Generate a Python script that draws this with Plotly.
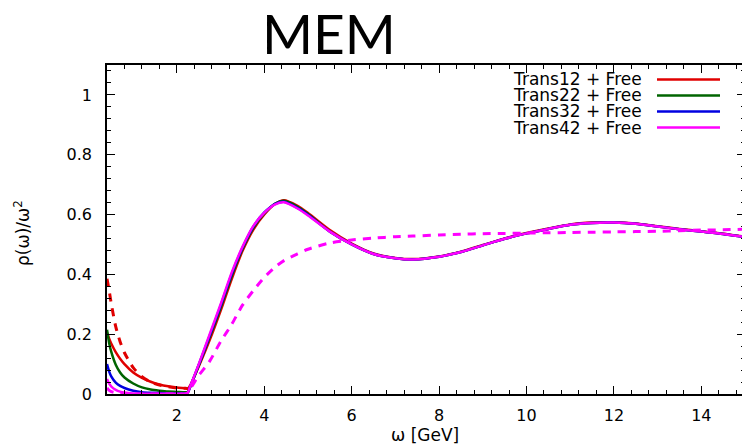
import plotly.graph_objects as go

# ---------------- data ----------------
omega = [0.4, 0.45, 0.5, 0.6, 0.7, 0.8, 1.0, 1.2, 1.4, 1.6, 1.8, 2.0, 2.2,
         2.25, 2.3, 2.5, 2.75, 3.0, 3.25, 3.5, 3.75, 4.0, 4.25, 4.45, 4.75,
         5.0, 5.5, 6.0, 6.5, 7.0, 7.4, 8.0, 8.5, 9.0, 9.5, 10.0, 10.5, 11.0,
         11.5, 12.0, 12.5, 13.0, 13.5, 14.0, 14.5, 15.0]

tail = [0.543, 0.5, 0.468, 0.454, 0.45, 0.459, 0.475, 0.497, 0.519, 0.537,
        0.552, 0.566, 0.572, 0.573, 0.569, 0.56, 0.551, 0.543, 0.535, 0.525]

trans12 = [0.205, 0.185, 0.168, 0.14, 0.118, 0.1, 0.072, 0.054, 0.041, 0.032,
           0.026, 0.022, 0.019, 0.018, 0.028,
           0.092, 0.18, 0.278, 0.383, 0.478, 0.55, 0.6, 0.636, 0.648, 0.63,
           0.605, 0.548, 0.503, 0.47, 0.455, 0.451, 0.46, 0.476, 0.498,
           0.52, 0.538, 0.553, 0.567, 0.573, 0.574, 0.57, 0.561, 0.552,
           0.544, 0.536, 0.526]
trans22 = [0.215, 0.17, 0.14, 0.098, 0.072, 0.055, 0.035, 0.022, 0.015, 0.011,
           0.008, 0.007, 0.006, 0.007, 0.022,
           0.096, 0.19, 0.288, 0.393, 0.485, 0.556, 0.604, 0.637, 0.646, 0.627,
           0.602] + tail
trans32 = [0.1, 0.075, 0.058, 0.038, 0.027, 0.02, 0.011, 0.006, 0.004, 0.003,
           0.002, 0.002, 0.002, 0.004, 0.023,
           0.098, 0.195, 0.295, 0.4, 0.489, 0.56, 0.607, 0.636, 0.643, 0.623,
           0.599] + tail
trans42 = [0.05, 0.035, 0.025, 0.014, 0.008, 0.005, 0.002, 0.001, 0.001, 0.001,
           0.001, 0.001, 0.001, 0.005, 0.024,
           0.1, 0.2, 0.3, 0.405, 0.492, 0.562, 0.606, 0.634, 0.641, 0.621,
           0.597] + tail

free_tail = [0.016, 0.062, 0.11, 0.175, 0.232, 0.297, 0.346, 0.39, 0.425,
             0.446, 0.468, 0.484, 0.505, 0.515, 0.521, 0.526, 0.528, 0.532,
             0.534, 0.536, 0.537, 0.538, 0.539, 0.54, 0.541, 0.542, 0.543,
             0.544, 0.546, 0.548, 0.549, 0.551]
free12_low = [0.385, 0.345, 0.3, 0.225, 0.175, 0.138, 0.088, 0.058, 0.04,
              0.03, 0.024, 0.02, 0.019, 0.018]
free42 = [0.02, 0.012, 0.008, 0.004, 0.002, 0.001, 0.0, 0.0, 0.0, 0.0,
          0.0, 0.0, 0.0, 0.004] + free_tail

labels = ["Trans12 + Free", "Trans22 + Free", "Trans32 + Free", "Trans42 + Free"]
colors = ["#e00000", "#006400", "#0000e0", "#ff00ff"]

# ---------------- figure ----------------
fig = go.Figure()
for lab, ys, col in zip(labels, [trans12, trans22, trans32, trans42], colors):
    fig.add_trace(go.Scatter(x=omega, y=ys, mode="lines", name=lab,
                             line=dict(color=col, width=2.5, shape="spline",
                                       smoothing=0.7),
                             showlegend=False))
fig.add_trace(go.Scatter(x=omega[:len(free12_low)], y=free12_low, mode="lines",
                         line=dict(color=colors[0], width=3, dash="8px,7px",
                                   shape="spline", smoothing=0.7),
                         showlegend=False))
fig.add_trace(go.Scatter(x=omega, y=free42, mode="lines",
                         line=dict(color=colors[3], width=3, dash="8px,7px",
                                   shape="spline", smoothing=0.7),
                         showlegend=False))

# page body has an 8px margin, so the figure is placed at (8, 8)
OFF = 8
PL, PR, PT, PB = 107, 745, 65, 394      # plot-area edges in page pixels
W, H = 750, 448
pw, ph = PR - PL, PB - PT


def px_x(p):
    return (p - PL) / pw


def px_y(p):
    return (PB - p) / ph


# legend (text left of sample line, as in the reference)
leg_y = [79, 95, 111, 127]
for lab, col, yy in zip(labels, colors, leg_y):
    fig.add_annotation(x=px_x(643), y=px_y(yy), xref="paper", yref="paper",
                       text=lab, showarrow=False, xanchor="right",
                       yanchor="middle", height=15, borderpad=0,
                       font=dict(family="DejaVu Sans", size=17, color="black"))
    fig.add_shape(type="line", xref="paper", yref="paper",
                  x0=px_x(657), x1=px_x(720), y0=px_y(yy + 0.5),
                  y1=px_y(yy + 0.5),
                  line=dict(color=col, width=2.5))

fig.add_annotation(x=px_x(329), y=px_y(33), xref="paper", yref="paper",
                   text="MEM", showarrow=False, xanchor="center",
                   yanchor="middle",
                   font=dict(family="Lato", size=55, color="black"))

# axis titles
fig.add_annotation(x=px_x(425), y=px_y(435), xref="paper", yref="paper",
                   text="ω [GeV]", showarrow=False, xanchor="center",
                   yanchor="middle",
                   font=dict(family="DejaVu Sans", size=17, color="black"))
fig.add_annotation(x=px_x(22), y=px_y(233), xref="paper", yref="paper",
                   text="ρ(ω)/ω<sup>2</sup>", showarrow=False, textangle=-90,
                   xanchor="center", yanchor="middle",
                   font=dict(family="DejaVu Sans", size=17, color="black"))

axis_common = dict(showline=True, linecolor="black", linewidth=1.5,
                   mirror="ticks", ticks="inside", ticklen=8, tickcolor="black",
                   showgrid=False, zeroline=False, automargin=False,
                   tickfont=dict(family="DejaVu Sans", size=16, color="black"))

fig.update_xaxes(range=[0.4, 15], dtick=2, tick0=0, ticklabelstandoff=6,
                 minor=dict(ticks="inside", dtick=0.4, tick0=0, ticklen=4,
                            tickcolor="black"),
                 **axis_common)
fig.update_yaxes(range=[0, 1.1], dtick=0.2, tick0=0, ticklabelstandoff=10,
                 minor=dict(ticks="inside", dtick=0.04, tick0=0, ticklen=4,
                            tickcolor="black"),
                 **axis_common)

fig.update_layout(width=W, height=H,
                  margin=dict(l=PL - OFF, r=W + OFF - PR, t=PT - OFF,
                              b=H + OFF - PB),
                  plot_bgcolor="white", paper_bgcolor="white",
                  showlegend=False)

fig.write_html("out.html")
